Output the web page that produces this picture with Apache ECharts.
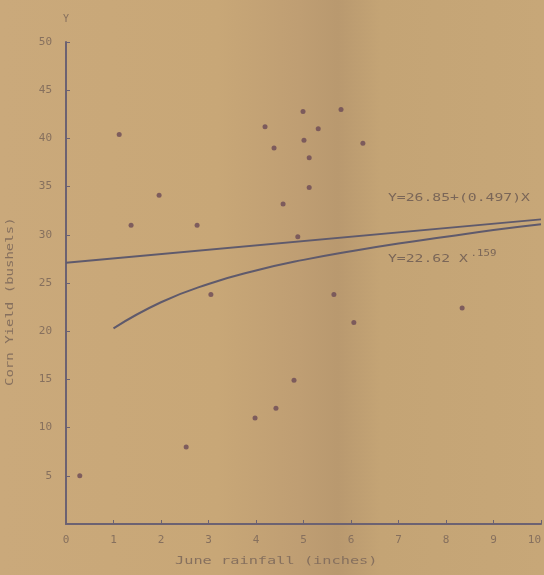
<!DOCTYPE html>
<html>
<head>
<meta charset="utf-8">
<script src="https://cdn.jsdelivr.net/npm/echarts@6/dist/echarts.min.js"></script>
<style>
html,body{margin:0;padding:0;}
body{background:linear-gradient(90deg,#caa97b 0%,#c8a777 40%,#bf9e73 55%,#b9996f 62%,#c4a475 70%,#c7a778 100%);}
#c{width:544px;height:575px;}
</style>
</head>
<body>
<div id="c"></div>
<script>
// June rainfall (inches)
const rainfall = [0.29,1.12,1.37,1.96,2.53,2.76,3.05,3.98,4.19,4.38,4.42,4.57,4.80,4.88,4.99,5.01,5.12,5.12,5.31,5.79,6.25,5.64,6.06,8.34];
// Corn yield (bushels)
const cornYield = [5.0,40.4,31.0,34.1,8.0,31.0,23.8,11.0,41.2,39.0,12.0,33.2,14.9,29.8,42.8,39.8,38.0,34.9,41.0,43.0,39.5,23.8,20.9,22.4];
// Linear fit line
const linX = [0,10];
const linY = [27.1,31.6];
// Power curve
const powX = [1,2,3,4,5,6,7,8,9,10];
const powY = [20.3,23.0,24.9,26.3,27.4,28.3,29.1,29.8,30.5,31.1];
const xTicks = ['0','1','2','3','4','5','6','7','8','9','10'];
const yTicks = ['0','5','10','15','20','25','30','35','40','45','50'];

const FONT = '"DejaVu Sans Mono", monospace';
const TXT = '#86705e';
const AX = '#6c6272';
const EQ = '#7a6658';

const zip = (a,b) => a.map((v,i)=>[v,b[i]]);

const chart = echarts.init(document.getElementById('c'));
chart.setOption({
  backgroundColor: 'transparent',
  animation: false,
  grid: {left: 66, right: 3, top: 42, bottom: 51, containLabel: false, outerBoundsMode: 'none'},
  xAxis: {
    type: 'value', min: 0, max: 10, interval: 1,
    axisLine: {show: true, lineStyle: {color: AX, width: 2}},
    axisTick: {show: true, inside: true, length: 4, lineStyle: {color: AX}},
    splitLine: {show: false},
    axisLabel: {color: TXT, fontFamily: FONT, fontSize: 11, margin: 11, alignMaxLabel: 'right',
      formatter: v => xTicks[Math.round(v)]}
  },
  yAxis: {
    type: 'value', min: 0, max: 50, interval: 5,
    name: 'Y', nameGap: 18, nameTextStyle: {color: TXT, fontFamily: FONT, fontSize: 10},
    axisLine: {show: true, lineStyle: {color: AX, width: 2}},
    axisTick: {show: true, inside: true, length: 4, lineStyle: {color: AX}},
    splitLine: {show: false},
    axisLabel: {color: TXT, fontFamily: FONT, fontSize: 11, margin: 14,
      formatter: v => (v === 0 ? '' : yTicks[Math.round(v/5)])}
  },
  series: [
    {type: 'scatter', data: zip(rainfall, cornYield), symbol: 'circle', symbolSize: 5,
     itemStyle: {color: '#6b4a56'}, z: 3},
    {type: 'line', data: zip(linX, linY), symbol: 'none',
     lineStyle: {color: '#5f5a6c', width: 2}, z: 2},
    {type: 'line', data: zip(powX, powY), symbol: 'none', smooth: true,
     lineStyle: {color: '#5f5a6c', width: 2}, z: 2}
  ],
  graphic: [
    {type: 'text', x: 175, y: 556, scaleX: 1.39, style: {text: 'June rainfall (inches)', fill: TXT, font: '11px ' + FONT}},
    {type: 'text', x: 5, y: 386, rotation: Math.PI/2, scaleX: 1.4, style: {text: 'Corn Yield (bushels)', fill: TXT, font: '10px ' + FONT}},
    {type: 'text', x: 388, y: 193, scaleX: 1.34, style: {text: 'Y=26.85+(0.497)X', fill: EQ, font: '11px ' + FONT}},
    {type: 'text', x: 388, y: 250, scaleX: 1.34, style: {
      text: '{a|Y=22.62 X}{b|.159}', fill: EQ,
      rich: {a: {font: '11px ' + FONT, fill: EQ, verticalAlign: 'bottom'},
             b: {font: '8px ' + FONT, fill: EQ, verticalAlign: 'top', padding: [0,0,7,2]}}}}
  ]
});
</script>
</body>
</html>
